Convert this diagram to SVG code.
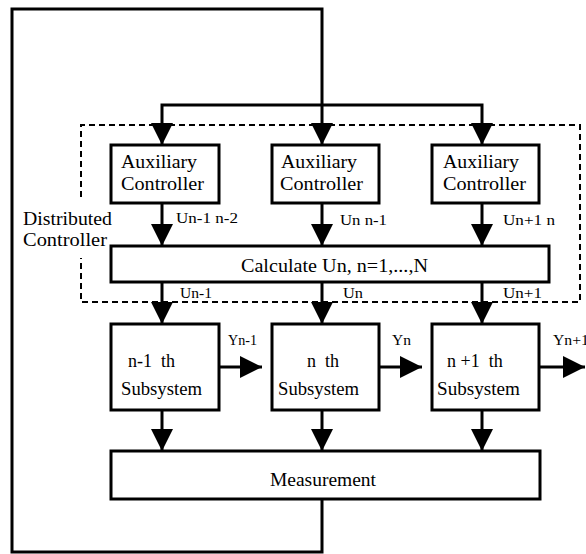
<svg xmlns="http://www.w3.org/2000/svg" width="586" height="554" viewBox="0 0 586 554">
<defs>
<marker id="arr" markerUnits="userSpaceOnUse" markerWidth="22" markerHeight="22" viewBox="0 0 22 22" refX="22" refY="11" orient="auto">
<path d="M0,0 L22,11 L0,22 z" fill="#000"/>
</marker>
<style>
.box{fill:#fff;stroke:#000;stroke-width:3}
.ln{fill:none;stroke:#000;stroke-width:3}
.ar{fill:none;stroke:#000;stroke-width:3;marker-end:url(#arr)}
.dash{fill:none;stroke:#000;stroke-width:2;stroke-dasharray:6 4}
text{font-family:"Liberation Serif","Times New Roman",serif;fill:#000}
.t{font-size:18px}
.s{font-size:14.5px}
</style>
</defs>
<rect width="586" height="554" fill="#fff"/>
<g id="distributed-controller">
<path class="dash" d="M81,197 V125 H580 V302 H81 V258"/>
<text class="t" x="23" y="225" textLength="89" lengthAdjust="spacingAndGlyphs">Distributed</text>
<text class="t" x="23" y="246" textLength="84" lengthAdjust="spacingAndGlyphs">Controller</text>
</g>
<g id="connectors">
<path class="ar" d="M322,499 V552 H12 V9 H322 V145"/>
<path class="ar" d="M322,105 H162 V145"/>
<path class="ar" d="M322,105 H482 V145"/>
<path class="ar" d="M162,203 V246"/>
<path class="ar" d="M322,203 V246"/>
<path class="ar" d="M482,203 V246"/>
<path class="ar" d="M162,282 V324"/>
<path class="ar" d="M322,282 V324"/>
<path class="ar" d="M482,282 V324"/>
<path class="ar" d="M162,410 V451"/>
<path class="ar" d="M322,410 V451"/>
<path class="ar" d="M482,410 V451"/>
<path class="ar" d="M219,367 H262"/>
<path class="ar" d="M379,367 H422"/>
<path class="ar" d="M539,367 H585"/>
<text class="s" x="176" y="223" textLength="62" lengthAdjust="spacingAndGlyphs">Un-1 n-2</text>
<text class="s" x="340" y="225" textLength="47" lengthAdjust="spacingAndGlyphs">Un n-1</text>
<text class="s" x="503" y="225" textLength="52" lengthAdjust="spacingAndGlyphs">Un+1 n</text>
<text class="s" x="180" y="298" textLength="32" lengthAdjust="spacingAndGlyphs">Un-1</text>
<text class="s" x="343" y="298" textLength="20" lengthAdjust="spacingAndGlyphs">Un</text>
<text class="s" x="503" y="298" textLength="39" lengthAdjust="spacingAndGlyphs">Un+1</text>
<text class="s" x="228" y="345" textLength="29" lengthAdjust="spacingAndGlyphs">Yn-1</text>
<text class="s" x="392" y="345" textLength="19" lengthAdjust="spacingAndGlyphs">Yn</text>
<text class="s" x="553" y="345" textLength="36" lengthAdjust="spacingAndGlyphs">Yn+1</text>
</g>
<g id="aux-1">
<rect class="box" x="111" y="145" width="108" height="58"/>
<text class="t" x="121" y="168" textLength="76" lengthAdjust="spacingAndGlyphs">Auxiliary</text>
<text class="t" x="121" y="190" textLength="83" lengthAdjust="spacingAndGlyphs">Controller</text>
</g>
<g id="aux-2">
<rect class="box" x="272" y="145" width="107" height="58"/>
<text class="t" x="281" y="168" textLength="76" lengthAdjust="spacingAndGlyphs">Auxiliary</text>
<text class="t" x="280" y="190" textLength="83" lengthAdjust="spacingAndGlyphs">Controller</text>
</g>
<g id="aux-3">
<rect class="box" x="432" y="145" width="107" height="58"/>
<text class="t" x="443" y="168" textLength="76" lengthAdjust="spacingAndGlyphs">Auxiliary</text>
<text class="t" x="443" y="190" textLength="83" lengthAdjust="spacingAndGlyphs">Controller</text>
</g>
<g id="calculate">
<rect class="box" x="111" y="246" width="438" height="36"/>
<text class="t" x="241" y="272" textLength="187" lengthAdjust="spacingAndGlyphs">Calculate Un, n=1,...,N</text>
</g>
<g id="sub-1">
<rect class="box" x="111" y="324" width="108" height="86"/>
<text class="t" x="128" y="367" xml:space="preserve">n-1  th</text>
<text class="t" x="121" y="395" textLength="81" lengthAdjust="spacingAndGlyphs">Subsystem</text>
</g>
<g id="sub-2">
<rect class="box" x="272" y="324" width="107" height="86"/>
<text class="t" x="307" y="367" xml:space="preserve">n  th</text>
<text class="t" x="278" y="395" textLength="81" lengthAdjust="spacingAndGlyphs">Subsystem</text>
</g>
<g id="sub-3">
<rect class="box" x="432" y="324" width="107" height="86"/>
<text class="t" x="447" y="367" xml:space="preserve">n +1  th</text>
<text class="t" x="437" y="395" textLength="83" lengthAdjust="spacingAndGlyphs">Subsystem</text>
</g>
<g id="measurement">
<rect class="box" x="111" y="451" width="429" height="48"/>
<text class="t" x="270" y="486" textLength="106" lengthAdjust="spacingAndGlyphs">Measurement</text>
</g>
</svg>
